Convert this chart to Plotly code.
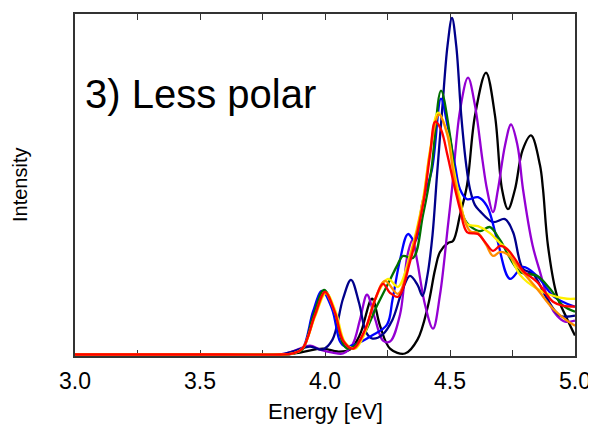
import plotly.graph_objects as go

# spectra (energy in eV, intensity in arbitrary units)
e_black = [3.0, 3.6, 3.84, 3.9, 3.992, 4.05, 4.1, 4.14, 4.188, 4.22, 4.26, 4.32, 4.37, 4.412, 4.44, 4.46,
           4.492, 4.512, 4.54, 4.568, 4.60, 4.644, 4.68, 4.708, 4.732, 4.76, 4.79, 4.824, 4.86, 4.872,
           4.892, 4.928, 4.968, 5.0]
i_black = [0, 0, 0, 2, 6, 3, 5, 20, 56, 29, 6, 1, 15, 49, 85, 103,
           112, 114, 140, 170, 240, 283, 240, 166, 146, 166, 205, 220, 190, 166,
           109, 59, 36, 19]

e_purple = [3.0, 3.6, 3.82, 3.88, 3.94, 3.98, 4.03, 4.072, 4.11, 4.14, 4.168, 4.2, 4.232, 4.26, 4.30,
            4.33, 4.35, 4.368, 4.40, 4.432, 4.46, 4.492, 4.508, 4.54, 4.572, 4.60, 4.63, 4.648, 4.672,
            4.692, 4.72, 4.744, 4.77, 4.792, 4.83, 4.86, 4.90, 4.928, 4.96, 5.0]
i_purple = [0, 0, 0, 4, 9, 5, 2, 1, 10, 35, 60, 36, 14, 13, 40,
            100, 115, 95, 50, 26, 60, 130, 166, 245, 278, 250, 195, 166, 143,
            166, 210, 231, 210, 166, 110, 83, 50, 39, 33, 34]

e_navy = [3.0, 3.6, 3.82, 3.87, 3.94, 3.99, 4.03, 4.072, 4.104, 4.136, 4.165, 4.19, 4.23, 4.27, 4.31,
          4.34, 4.37, 4.39, 4.41, 4.43, 4.448, 4.47, 4.49, 4.508, 4.525, 4.545, 4.565, 4.58, 4.60,
          4.62, 4.672, 4.72, 4.752, 4.792, 4.832, 4.888, 4.94, 5.0]
i_navy = [0, 0, 0, 3, 8, 5, 15, 56, 75, 52, 22, 16, 20, 35, 65,
          79, 70, 59, 80, 120, 180, 250, 310, 338, 310, 240, 190, 166, 150,
          144, 133, 136, 123, 86, 81, 56, 39, 39]

e_blue = [3.0, 3.6, 3.82, 3.87, 3.91, 3.952, 3.988, 4.028, 4.06, 4.08, 4.12, 4.188, 4.248, 4.27, 4.30,
          4.332, 4.36, 4.39, 4.428, 4.464, 4.49, 4.52, 4.54, 4.568, 4.612, 4.648, 4.688, 4.74, 4.792,
          4.848, 4.912, 4.968, 5.0]
i_blue = [0, 0, 0, 1, 6, 43, 64, 46, 13, 8, 10, 19, 30, 55, 95,
          121, 114, 153, 186, 257, 230, 190, 166, 156, 158, 149, 116, 76, 88,
          79, 59, 51, 48]

e_green = [3.0, 3.6, 3.82, 3.87, 3.91, 3.952, 3.996, 4.036, 4.07, 4.09, 4.14, 4.208, 4.26, 4.288, 4.312,
           4.352, 4.392, 4.425, 4.464, 4.50, 4.528, 4.56, 4.58, 4.62, 4.66, 4.70, 4.78, 4.848, 4.90,
           4.952, 5.0]
i_green = [0, 0, 0, 1, 5, 38, 65, 45, 12, 6, 14, 49, 75, 89, 99,
           97, 140, 185, 265, 220, 166, 135, 129, 124, 128, 115, 83, 79, 66,
           49, 43]

e_yellow = [3.0, 3.6, 3.82, 3.87, 3.91, 3.96, 4.004, 4.044, 4.08, 4.12, 4.16, 4.2, 4.252, 4.292, 4.34,
            4.392, 4.42, 4.452, 4.49, 4.512, 4.54, 4.568, 4.612, 4.66, 4.70, 4.728, 4.78, 4.848, 4.912,
            4.968, 5.0]
i_yellow = [0, 0, 0, 1, 6, 38, 62, 42, 12, 6, 22, 55, 76, 68, 100,
            156, 205, 243, 222, 190, 156, 131, 129, 122, 112, 106, 80, 66, 59,
            56, 56]

e_orange = [3.0, 3.6, 3.82, 3.87, 3.91, 3.96, 4.0, 4.04, 4.076, 4.116, 4.16, 4.2, 4.24, 4.292, 4.34,
            4.392, 4.42, 4.456, 4.49, 4.512, 4.54, 4.58, 4.612, 4.645, 4.672, 4.70, 4.728, 4.78, 4.848,
            4.912, 4.968, 5.0]
i_orange = [0, 0, 0, 1, 6, 39, 62, 42, 13, 6, 24, 55, 74, 61, 97,
            153, 203, 241, 220, 185, 150, 124, 122, 110, 99, 103, 101, 86, 66,
            46, 34, 29]

e_red = [3.0, 3.6, 3.82, 3.87, 3.91, 3.96, 4.0, 4.04, 4.072, 4.112, 4.16, 4.2, 4.232, 4.26, 4.292,
         4.34, 4.392, 4.42, 4.441, 4.464, 4.49, 4.512, 4.54, 4.568, 4.612, 4.64, 4.672, 4.70, 4.728,
         4.76, 4.792, 4.848, 4.912, 4.952, 5.0]
i_red = [0, 0, 0, 1, 6, 40, 63, 42, 14, 6, 25, 55, 71, 62, 58,
         93, 150, 200, 234, 226, 200, 175, 146, 123, 121, 113, 104, 109, 106,
         96, 84, 73, 53, 49, 48]

series = [
    (e_black, i_black, 'black'),
    (e_purple, i_purple, '#9400D3'),
    (e_navy, i_navy, '#00008B'),
    (e_blue, i_blue, '#0000FF'),
    (e_green, i_green, '#007000'),
    (e_yellow, i_yellow, '#FFF000'),
    (e_orange, i_orange, '#FF8C00'),
    (e_red, i_red, '#FF0000'),
]

fig = go.Figure()
for ex, iy, col in series:
    fig.add_trace(go.Scatter(x=ex, y=iy, mode='lines',
                             line=dict(color=col, width=2.3, shape='spline', smoothing=1.0),
                             showlegend=False, hoverinfo='skip'))

fig.add_annotation(text='3) Less polar', xref='paper', yref='paper', x=0.015, y=0.766,
                   xanchor='left', yanchor='middle', showarrow=False,
                   font=dict(size=40, color='black'))
# axis titles as annotations so the margins stay put
fig.add_annotation(text='Energy [eV]', xref='paper', yref='paper', x=0.5, y=-0.163,
                   xanchor='center', yanchor='middle', showarrow=False,
                   font=dict(size=22, color='black'))
fig.add_annotation(text='Intensity', xref='paper', yref='paper', x=-0.11, y=0.5,
                   xanchor='center', yanchor='middle', showarrow=False, textangle=-90,
                   font=dict(size=20, color='black'))

# the page body adds 8px around the plot div, so the margins are shifted to match
fig.update_layout(
    width=596, height=429,
    margin=dict(l=67, r=29, t=6, b=81, autoexpand=False),
    paper_bgcolor='white', plot_bgcolor='white',
    font=dict(family='Liberation Sans, Arial, sans-serif', color='black', size=23),
    xaxis=dict(range=[3.0, 5.0], dtick=0.5, tickformat='.1f', automargin=False,
               ticks='inside', ticklen=6, tickcolor='#333', ticklabelstandoff=4,
               minor=dict(dtick=0.25, ticks='inside', ticklen=6, tickcolor='#333'),
               showline=True, linecolor='#333', linewidth=1.5, mirror='ticks',
               showgrid=False, zeroline=False, layer='below traces'),
    yaxis=dict(range=[-1.5, 342], showticklabels=False, ticks='', automargin=False,
               showline=True, linecolor='#333', linewidth=1.5, mirror=True,
               showgrid=False, zeroline=False, layer='below traces'),
)

fig.write_html("out.html")
